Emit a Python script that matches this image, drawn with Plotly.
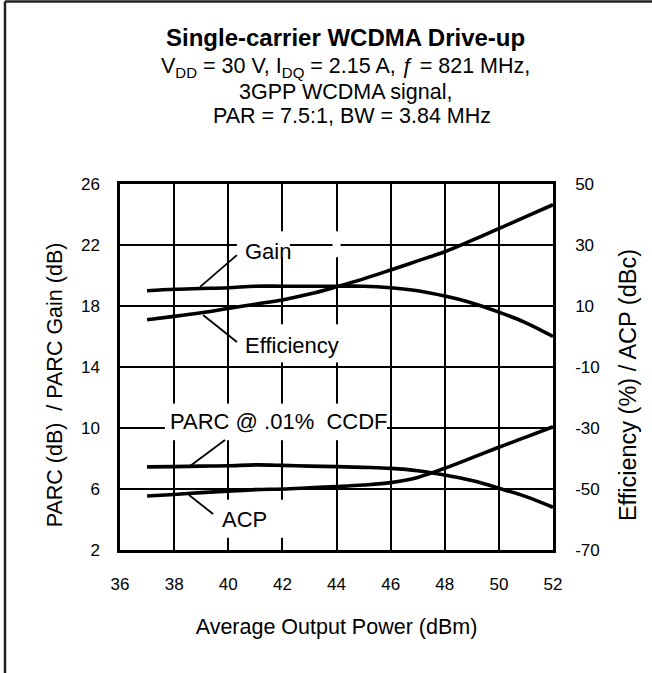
import plotly.graph_objects as go

# ---------------- data ----------------
power_dbm = [37, 38, 39, 40, 41, 42, 43, 44, 45, 46, 47, 48, 49, 50, 51, 52]
gain_db = [19.0, 19.1, 19.15, 19.2, 19.3, 19.3, 19.3, 19.3, 19.3, 19.2, 19.0, 18.65, 18.2, 17.6, 16.9, 16.0]
parc_db = [7.45, 7.47, 7.5, 7.52, 7.58, 7.55, 7.5, 7.47, 7.42, 7.35, 7.2, 6.92, 6.55, 6.05, 5.5, 4.8]
efficiency_pct = [5.5, 6.6, 7.8, 9.2, 10.6, 12.0, 13.9, 16.3, 18.9, 21.8, 24.8, 27.8, 31.5, 35.4, 39.3, 43.2]
acp_dbc = [-52.3, -51.8, -51.2, -50.7, -50.2, -50.0, -49.6, -49.2, -48.7, -47.9, -46.2, -43.2, -39.8, -36.3, -33.0, -29.6]

x_ticks = [36, 38, 40, 42, 44, 46, 48, 50, 52]
left_ticks = [2, 6, 10, 14, 18, 22, 26]
right_ticks = [-70, -50, -30, -10, 10, 30, 50]
right_tick_labels = ["-70", "-50", "-30", "-10", "10", "30", "50"]

FONT = "Arial, Liberation Sans, sans-serif"
LW = 3.6

fig = go.Figure()
for yv in [gain_db, parc_db]:
    fig.add_trace(go.Scatter(x=power_dbm, y=yv, mode="lines", yaxis="y",
                             line=dict(color="black", width=LW, shape="spline"),
                             showlegend=False, hoverinfo="skip"))
for yv in [efficiency_pct, acp_dbc]:
    fig.add_trace(go.Scatter(x=power_dbm, y=yv, mode="lines", yaxis="y2",
                             line=dict(color="black", width=LW, shape="spline"),
                             showlegend=False, hoverinfo="skip"))

shapes = []
# gaps in the grid lines (white patches behind the labels)
vgaps = [(42, 21.2, 22.9), (44, 21.2, 22.9), (42, 14.3, 16.8), (44, 14.3, 16.8),
         (38, 9.2, 11.6), (40, 9.2, 11.6), (42, 9.2, 11.6), (44, 9.2, 11.6),
         (40, 2.8, 5.3), (42, 2.8, 5.3)]
for gx, y0, y1 in vgaps:
    shapes.append(dict(type="rect", xref="x", yref="y", x0=gx - 0.15, x1=gx + 0.15, y0=y0, y1=y1,
                       fillcolor="white", line=dict(width=0), layer="between"))
hgaps = [(22, 40.32, 42.28), (10, 37.66, 45.87)]
for gy, x0, x1 in hgaps:
    shapes.append(dict(type="rect", xref="x", yref="y", x0=x0, x1=x1, y0=gy - 0.15, y1=gy + 0.15,
                       fillcolor="white", line=dict(width=0), layer="between"))
# leader lines
leaders = [(38.96, 19.25, 40.32, 21.34), (39.07, 17.41, 40.32, 15.64),
           (38.59, 7.51, 39.88, 9.21), (38.55, 5.61, 39.44, 4.36)]
for x0, y0, x1, y1 in leaders:
    shapes.append(dict(type="line", xref="x", yref="y", x0=x0, y0=y0, x1=x1, y1=y1,
                       line=dict(color="black", width=1.8)))
# outer frame (left and top edges)
shapes.append(dict(type="line", xref="paper", yref="paper", x0=-0.2656, x1=-0.2656, y0=-0.4, y1=1.4986,
                   line=dict(color="#222222", width=2.5)))
shapes.append(dict(type="line", xref="paper", yref="paper", x0=-0.2656, x1=1.3, y0=1.4986, y1=1.4986,
                   line=dict(color="#222222", width=2.5)))

annotations = []
def txt(text, x, y, size, xref="x", yref="y", xanchor="left", angle=0, bold=False):
    annotations.append(dict(text=f"<b>{text}</b>" if bold else text, x=x, y=y, xref=xref, yref=yref,
                            xanchor=xanchor, yanchor="middle", showarrow=False, textangle=angle,
                            font=dict(family=FONT, size=size, color="black")))

txt("Gain", 40.54, 21.6, 22)
txt("Efficiency", 40.54, 15.38, 22)
txt("PARC @ .01%  CCDF", 37.77, 10.4, 22)
txt("ACP", 39.7, 3.97, 22)

txt("Single-carrier WCDMA Drive-up", 0.52, 1.399, 24, xref="paper", yref="paper", xanchor="center", bold=True)
txt("V<sub>DD</sub> = 30 V, I<sub>DQ</sub> = 2.15 A, ƒ = 821 MHz,", 0.52, 1.317, 21.5,
    xref="paper", yref="paper", xanchor="center")
txt("3GPP WCDMA signal,", 0.52, 1.251, 21.5, xref="paper", yref="paper", xanchor="center")
txt("PAR = 7.5:1, BW = 3.84 MHz", 0.535, 1.186, 21.5, xref="paper", yref="paper", xanchor="center")

txt("PARC (dB)  / PARC Gain (dB)", -0.150, 0.45, 21.5, xref="paper", yref="paper", xanchor="center", angle=-90)
txt("Efficiency (%) / ACP (dBc)", 1.175, 0.45, 23.5, xref="paper", yref="paper", xanchor="center", angle=-90)

axis_common = dict(showline=True, linecolor="black", linewidth=2.5, ticks="",
                   tickfont=dict(family=FONT, size=17, color="black"))

fig.update_layout(
    width=652, height=673,
    margin=dict(l=120, r=99, t=184, b=123),
    paper_bgcolor="white", plot_bgcolor="white",
    font=dict(family=FONT, color="black"),
    showlegend=False,
    shapes=shapes, annotations=annotations,
    xaxis=dict(range=[36, 52], tickvals=x_ticks, mirror=True, showgrid=True,
               gridcolor="black", gridwidth=2, zeroline=False, ticklabelstandoff=17,
               title=dict(text="Average Output Power (dBm)", font=dict(family=FONT, size=21.5), standoff=26),
               **axis_common),
    yaxis=dict(range=[2, 26], tickvals=left_ticks, mirror=True, showgrid=True,
               gridcolor="black", gridwidth=2, zeroline=False, ticklabelstandoff=14, **axis_common),
    yaxis2=dict(range=[-70, 50], tickvals=right_ticks, ticktext=right_tick_labels, overlaying="y",
                side="right", showgrid=False, zeroline=False, ticklabelstandoff=16, **axis_common),
)

fig.write_html("out.html", config={"displayModeBar": False},
               post_script="document.body.style.margin='0';document.body.style.padding='0';")
